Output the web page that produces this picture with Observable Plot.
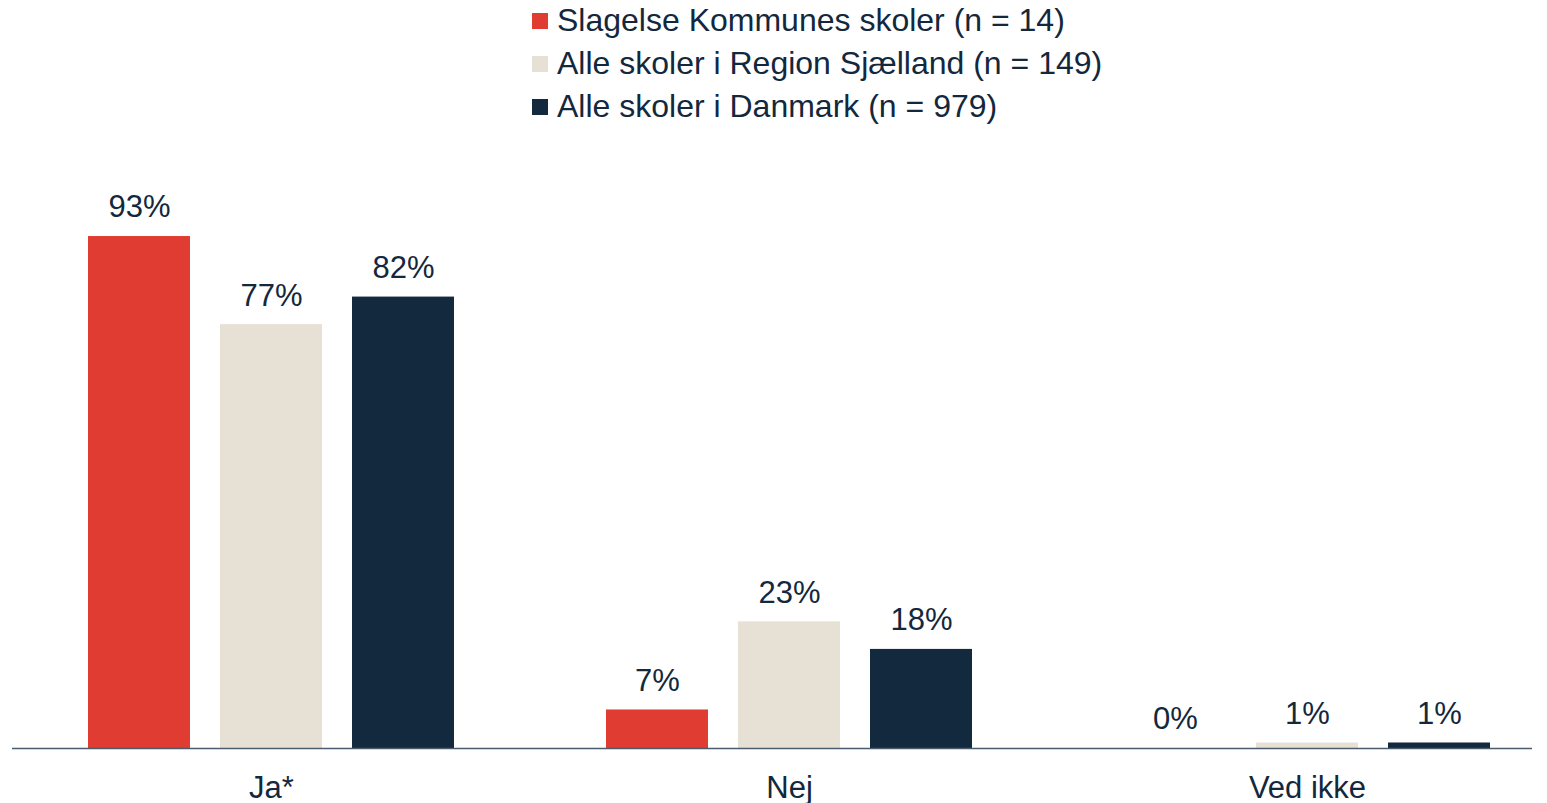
<!DOCTYPE html>
<html><head><meta charset="utf-8">
<script src="https://cdn.jsdelivr.net/npm/d3@7"></script>
<script src="https://cdn.jsdelivr.net/npm/@observablehq/plot@0.6"></script>
<style>
body{margin:0;background:#fff;font-family:"Liberation Sans",Arial,sans-serif;color:#13283D;}
#legend{position:absolute;left:532px;top:-1px;}
.item{display:flex;align-items:center;height:43px;font-size:32px;white-space:nowrap;}
.sw{width:16px;height:16px;margin-right:9px;flex:none;}
#chart{position:absolute;left:0;top:130px;}
</style></head><body>
<div id="legend"></div><div id="chart"></div>
<script>
const categories = ["Ja*", "Nej", "Ved ikke"];
const seriesNames = ["Slagelse Kommunes skoler (n = 14)", "Alle skoler i Region Sjælland (n = 149)", "Alle skoler i Danmark (n = 979)"];
const slagelse = [93, 7, 0];
const region = [77, 23, 1];
const danmark = [82, 18, 1];
const colors = ["#E03C31", "#E7E0D5", "#13293D"];

const seriesValues = [slagelse, region, danmark];
const data = [];
categories.forEach((c, i) => seriesNames.forEach((s, j) => data.push({category: c, series: s, value: seriesValues[j][i]})));

const legend = document.getElementById("legend");
seriesNames.forEach((s, j) => {
  const it = document.createElement("div"); it.className = "item";
  const sw = document.createElement("div"); sw.className = "sw"; sw.style.background = colors[j];
  const t = document.createElement("span"); t.textContent = s;
  it.appendChild(sw); it.appendChild(t); legend.appendChild(it);
});

const last = categories[categories.length - 1];
const baseRows = categories.map(c => ({category: c, value: 0}));

const chart = Plot.plot({
  width: 1547, height: 673,
  marginLeft: 12, marginRight: -19, marginTop: 67.5, marginBottom: 55,
  fx: {domain: categories, padding: 0, label: null, axis: "bottom", tickSize: 0, tickPadding: 27},
  x: {domain: seriesNames, paddingInner: 0.227, paddingOuter: 0.5755, axis: null},
  y: {domain: [0, 100], axis: null},
  color: {domain: seriesNames, range: colors},
  style: {fontSize: "31px", fontFamily: "'Liberation Sans', Arial, sans-serif", color: "#13283D", background: "transparent", overflow: "visible"},
  marks: [
    Plot.barY(data, {fx: "category", x: "series", y: "value", fill: "series"}),
    Plot.ruleY(baseRows.filter(d => d.category !== last), {fx: "category", y: "value", stroke: "#4a5c6e", strokeWidth: 1.5}),
    Plot.ruleY(baseRows.filter(d => d.category === last), {fx: "category", y: "value", stroke: "#4a5c6e", strokeWidth: 1.5, insetRight: 34}),
    Plot.text(data, {fx: "category", x: "series", y: "value", text: d => d.value + "%", dy: -29, lineAnchor: "middle", fill: "#13283D"})
  ]
});
document.getElementById("chart").appendChild(chart);
</script>
</body></html>
